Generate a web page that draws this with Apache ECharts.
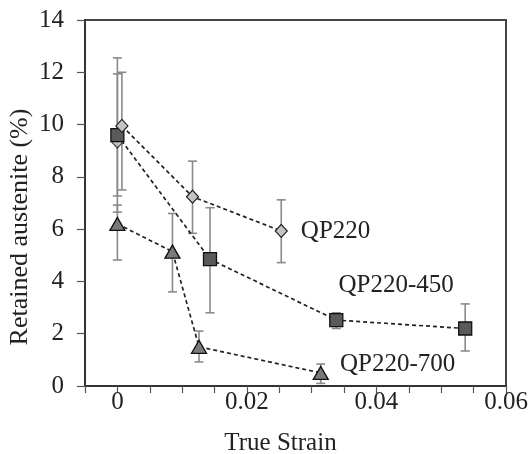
<!DOCTYPE html>
<html>
<head>
<meta charset="utf-8">
<script src="https://cdn.jsdelivr.net/npm/echarts@6/dist/echarts.min.js"></script>
<style>html,body{margin:0;padding:0;background:#fff}#c{width:531px;height:454px}</style>
</head>
<body>
<div id="c"></div>
<script>
// ---- data ----
const seriesNames = ['QP220', 'QP220-450', 'QP220-700'];
const qp220X = [0.0007, 0.0116, 0.0253];
const qp220Y = [9.95, 7.24, 5.93];
const qp220Low = [7.5, 5.84, 4.72];
const qp220High = [12.0, 8.6, 7.12];

const qp450X = [0, 0.0143, 0.0338, 0.0537];
const qp450Y = [9.6, 4.85, 2.52, 2.2];
const qp450Low = [6.65, 2.8, 2.2, 1.34];
const qp450High = [12.55, 6.82, 2.8, 3.14];

const qp700X = [0, 0.0085, 0.0126, 0.0314];
const qp700Y = [6.2, 5.14, 1.5, 0.5];
const qp700Low = [4.82, 3.6, 0.92, 0.1];
const qp700High = [6.92, 6.6, 2.1, 0.84];

// additional diamond marker at zero strain
const extraX = [0];
const extraY = [9.35];
const extraLow = [7.27];
const extraHigh = [11.94];

const yTicks = [0, 2, 4, 6, 8, 10, 12, 14];
const xTickLabels = ['0', '0.02', '0.04', '0.06'];

// ---- chart ----
const FONT = 'Liberation Serif';
const chart = echarts.init(document.getElementById('c'));

function pts(xs, ys) { return xs.map((x, i) => [x, ys[i]]); }
function bars(xs, lo, hi) { return xs.map((x, i) => [x, lo[i], hi[i]]); }

function errSeries(data) {
  return {
    type: 'custom',
    z: 1,
    renderItem: function (params, api) {
      const x = api.value(0);
      const p1 = api.coord([x, api.value(1)]);
      const p2 = api.coord([x, api.value(2)]);
      const w = 4.5;
      const st = { stroke: '#8a8a8a', lineWidth: 1.6 };
      return {
        type: 'group',
        children: [
          { type: 'line', shape: { x1: p1[0], y1: p1[1], x2: p2[0], y2: p2[1] }, style: st },
          { type: 'line', shape: { x1: p1[0] - w, y1: p1[1], x2: p1[0] + w, y2: p1[1] }, style: st },
          { type: 'line', shape: { x1: p2[0] - w, y1: p2[1], x2: p2[0] + w, y2: p2[1] }, style: st }
        ]
      };
    },
    encode: { x: 0, y: [1, 2] },
    data: data,
    silent: true
  };
}

function withLabel(data, idx, text, offset) {
  return data.map((d, i) => {
    if (i !== idx) return d;
    return {
      value: d,
      label: {
        show: true, formatter: text, position: 'right', offset: offset,
        fontFamily: FONT, fontSize: 25, color: '#222'
      }
    };
  });
}

const lineStyle = { color: '#222', width: 1.7, type: [4, 3] };

const option = {
  animation: false,
  backgroundColor: '#fff',
  grid: { left: 85, top: 20, right: 25, bottom: 68, containLabel: false, outerBoundsMode: 'none',
          show: true, borderColor: '#444', borderWidth: 2, backgroundColor: 'transparent' },
  xAxis: {
    type: 'value', min: -0.005, max: 0.06, interval: 0.005,
    name: 'True Strain', nameLocation: 'middle', nameGap: 45,
    nameTextStyle: { fontFamily: FONT, fontSize: 25, color: '#222', padding: [0, 30, 0, 0] },
    axisLine: { show: true, onZero: false, lineStyle: { color: '#333', width: 2 } },
    axisTick: { show: true, inside: false, length: 7, lineStyle: { color: '#555', width: 1.2 } },
    axisLabel: {
      margin: 4, fontFamily: FONT, fontSize: 25, color: '#222',
      formatter: function (v) {
        const k = Math.round(v / 0.02 * 1000) / 1000;
        if (Math.abs(k - Math.round(k)) < 1e-6 && Math.round(k) >= 0) return xTickLabels[Math.round(k)] || '';
        return '';
      }
    },
    splitLine: { show: false }
  },
  yAxis: {
    type: 'value', min: yTicks[0], max: yTicks[yTicks.length - 1], interval: 2,
    name: 'Retained austenite (%)', nameLocation: 'middle', nameGap: 52, nameMoveOverlap: false,
    nameTextStyle: { fontFamily: FONT, fontSize: 26, color: '#222', padding: [0, 48, 0, 0] },
    axisLine: { show: true, onZero: false, lineStyle: { color: '#333', width: 2 } },
    axisTick: { show: true, inside: false, length: 8, lineStyle: { color: '#555', width: 1.2 } },
    axisLabel: { margin: 21, fontFamily: FONT, fontSize: 25, color: '#222' },
    splitLine: { show: false }
  },
  series: [
    errSeries(bars(qp220X, qp220Low, qp220High)),
    errSeries(bars(qp450X, qp450Low, qp450High)),
    errSeries(bars(qp700X, qp700Low, qp700High)),
    errSeries(bars(extraX, extraLow, extraHigh)),
    {
      name: seriesNames[2], type: 'line', z: 3,
      data: withLabel(pts(qp700X, qp700Y), 3, seriesNames[2], [6, -8]),
      symbol: 'triangle', symbolSize: [15, 13],
      itemStyle: { color: '#7a7a7a', borderColor: '#111', borderWidth: 1.3 },
      lineStyle: lineStyle
    },
    {
      name: 'extra', type: 'scatter', z: 3,
      data: pts(extraX, extraY),
      symbol: 'diamond', symbolSize: [12, 13],
      itemStyle: { color: '#c4c4c4', borderColor: '#222', borderWidth: 1.2 }
    },
    {
      name: seriesNames[1], type: 'line', z: 4,
      data: withLabel(pts(qp450X, qp450Y), 2, seriesNames[1], [-10, -35]),
      symbol: 'rect', symbolSize: 13,
      itemStyle: { color: '#5a5a5a', borderColor: '#111', borderWidth: 1.3 },
      lineStyle: lineStyle
    },
    {
      name: seriesNames[0], type: 'line', z: 5,
      data: withLabel(pts(qp220X, qp220Y), 2, seriesNames[0], [8, 0]),
      symbol: 'diamond', symbolSize: [12, 13],
      itemStyle: { color: '#c4c4c4', borderColor: '#222', borderWidth: 1.2 },
      lineStyle: lineStyle
    }
  ]
};
chart.setOption(option);
</script>
</body>
</html>
